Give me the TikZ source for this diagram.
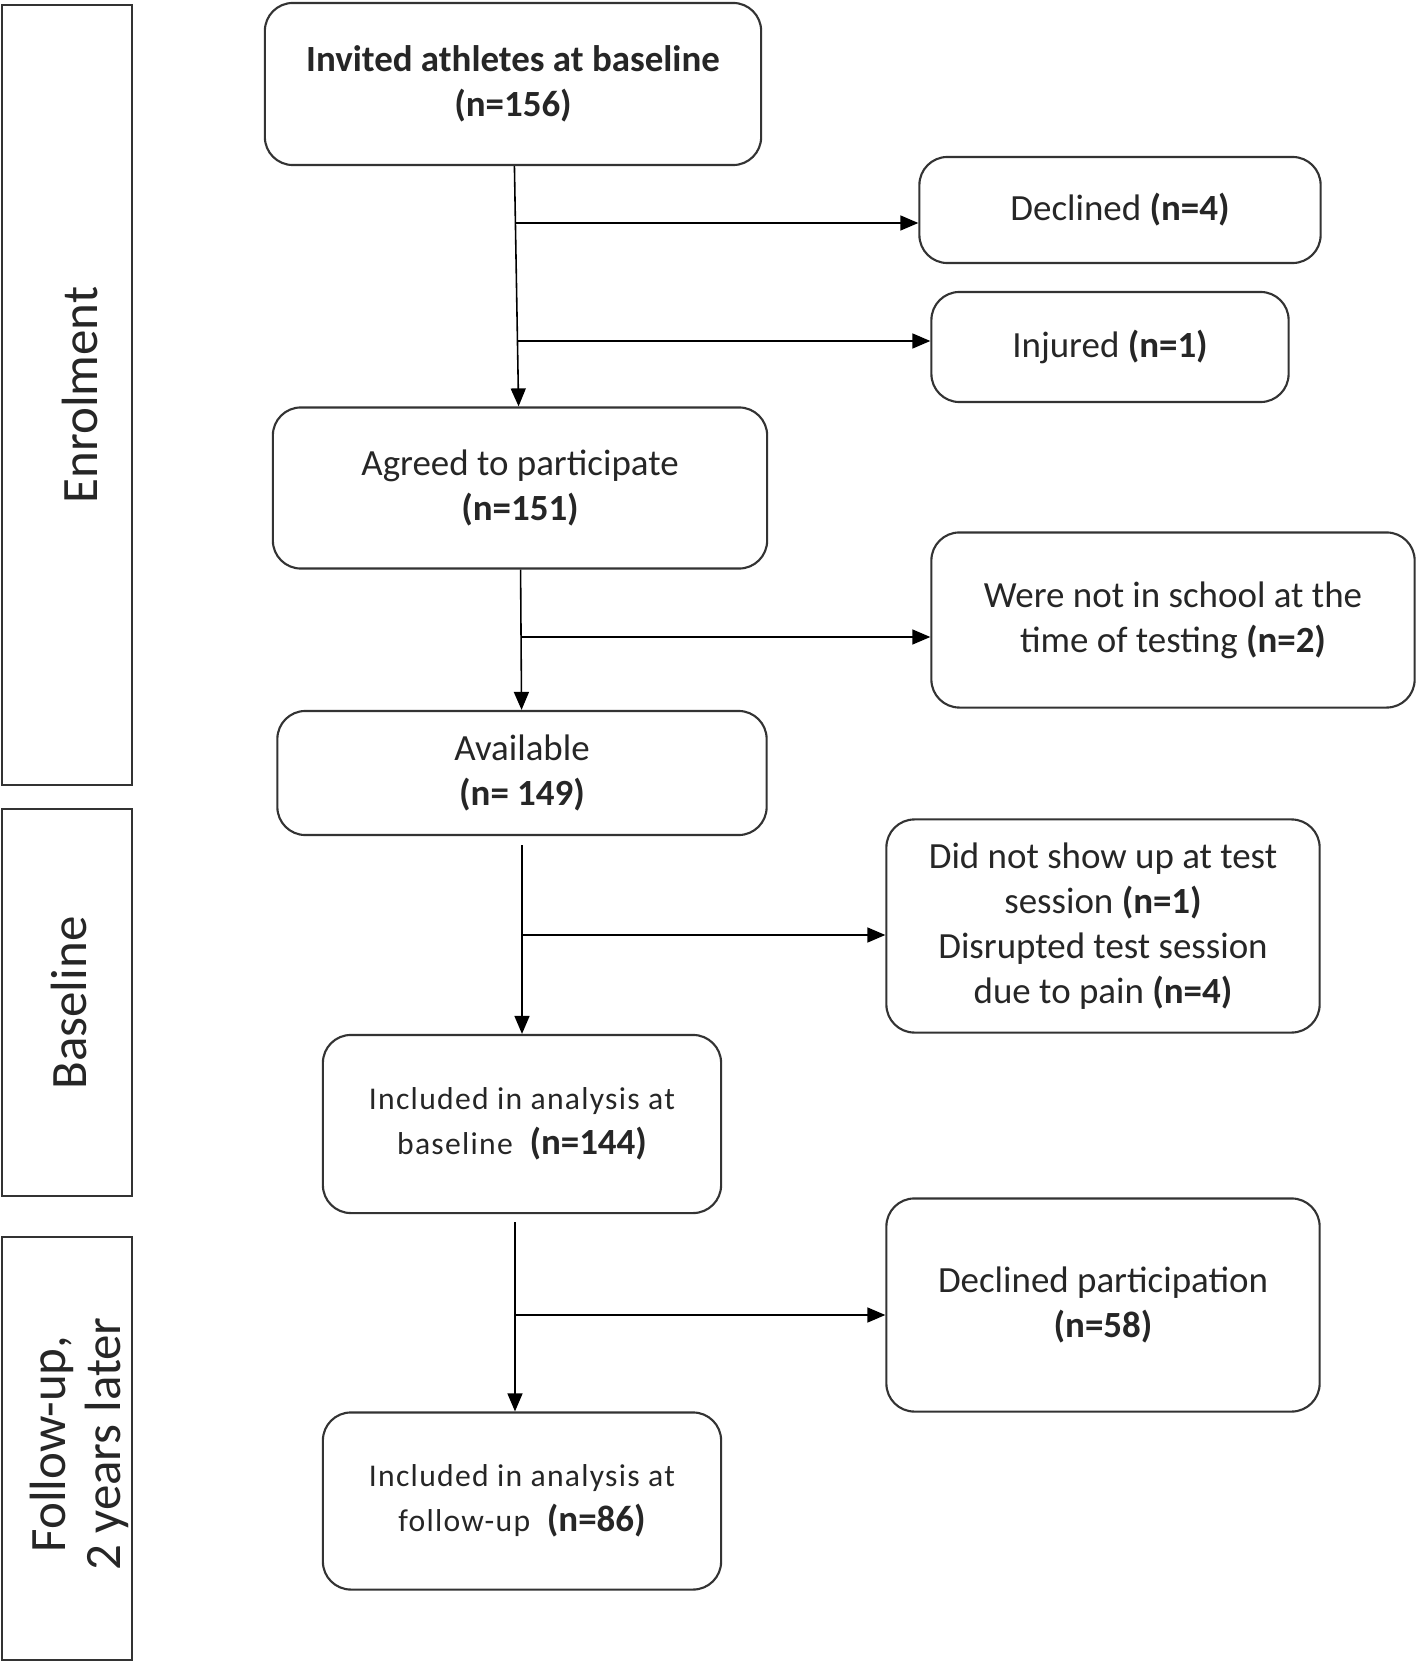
\documentclass[tikz,border=0pt]{standalone}
\usepackage{fontspec}
\setmainfont{Carlito}
\usetikzlibrary{arrows.meta}
\definecolor{boxgray}{rgb}{0.2,0.2,0.2}
\definecolor{textgray}{rgb}{0.15,0.15,0.15}

\tikzset{
  box/.style={draw=boxgray, line width=0.6pt, rounded corners=0.28cm, align=center,
    inner sep=0pt, text=textgray, font=\fontsize{10.5}{12.8}\selectfont},
  stage/.style={draw=boxgray, line width=0.6pt},
  stagelabel/.style={rotate=90, align=center, text=textgray, font=\fontsize{14.5}{15.6}\selectfont},
  arr/.style={line width=0.45pt, -{Triangle[length=0.18cm,width=0.15cm]}},
}
\newcommand{\spaced}[1]{{\fontsize{9}{13}\selectfont\addfontfeatures{LetterSpace=4}#1}}

\begin{document}
\begin{tikzpicture}[x=0.01cm, y=-0.01cm]
        \useasboundingbox (0,0) rectangle (1418,1664);
        % stages on the left
        \draw[stage] (2, 5) rectangle (132, 785);
        \draw[stage] (2, 809) rectangle (132, 1196);
        \draw[stage] (2, 1237) rectangle (132, 1660);
        \node[stagelabel] (enrol) at (80, 395) {Enrolment};
        \node[stagelabel] (base) at (69, 1003) {Baseline};
        \node[stagelabel] (follow) at (79, 1444) {Follow-up,\\2 years later};
        % main column
        \node[box, minimum width=4.96cm, minimum height=1.62cm] (invited) at (513, 84)
            {\textbf{Invited athletes at baseline}\\\textbf{(n=156)}};
        \node[box, minimum width=4.94cm, minimum height=1.61cm] (agreed) at (520, 488)
            {Agreed to participate\\\textbf{(n=151)}};
        \node[box, minimum width=4.89cm, minimum height=1.24cm] (available) at (522, 773)
            {Available\\\textbf{(n= 149)}};
        \node[box, minimum width=3.98cm, minimum height=1.78cm] (inclbase) at (522, 1124)
            {\spaced{Included in analysis at}\\\spaced{baseline}\ \ \textbf{(n=144)}};
        \node[box, minimum width=3.98cm, minimum height=1.77cm] (inclfu) at (522, 1501)
            {\spaced{Included in analysis at}\\\spaced{follow-up}\ \ \textbf{(n=86)}};
        % exclusions
        \node[box, minimum width=4.01cm, minimum height=1.06cm] (declined) at (1120, 210)
            {Declined \textbf{(n=4)}};
        \node[box, minimum width=3.57cm, minimum height=1.10cm] (injured) at (1110, 347)
            {Injured \textbf{(n=1)}};
        \node[box, minimum width=4.83cm, minimum height=1.75cm] (school) at (1173, 620)
            {Were not in school at the\\time of testing \textbf{(n=2)}};
        \node[box, minimum width=4.33cm, minimum height=2.13cm] (noshow) at (1103, 926)
            {Did not show up at test\\session \textbf{(n=1)}\\Disrupted test session\\due to pain \textbf{(n=4)}};
        \node[box, minimum width=4.33cm, minimum height=2.13cm] (declpart) at (1103, 1305)
            {Declined participation\\\textbf{(n=58)}};
        % flow
        \draw[arr] (invited) -- (agreed);
        \draw[arr] (agreed) -- (available);
        \draw[arr] ([yshift=-0.09cm]available.south) -- (inclbase);
        \draw[arr] ([xshift=-0.07cm, yshift=-0.08cm]inclbase.south) -- ([xshift=-0.07cm]inclfu.north);
        \coordinate (j1) at (515, 223);
        \coordinate (j2) at (518, 341);
        \coordinate (j3) at (521, 637);
        \coordinate (j4) at (522, 935);
        \coordinate (j5) at (515, 1315);
        \draw[arr] (j1) -- (j1 -| declined.west);
        \draw[arr] (j2) -- (j2 -| injured.west);
        \draw[arr] (j3) -- (j3 -| school.west);
        \draw[arr] (j4) -- (j4 -| noshow.west);
        \draw[arr] (j5) -- (j5 -| declpart.west);
     \end{tikzpicture}
\end{document}
